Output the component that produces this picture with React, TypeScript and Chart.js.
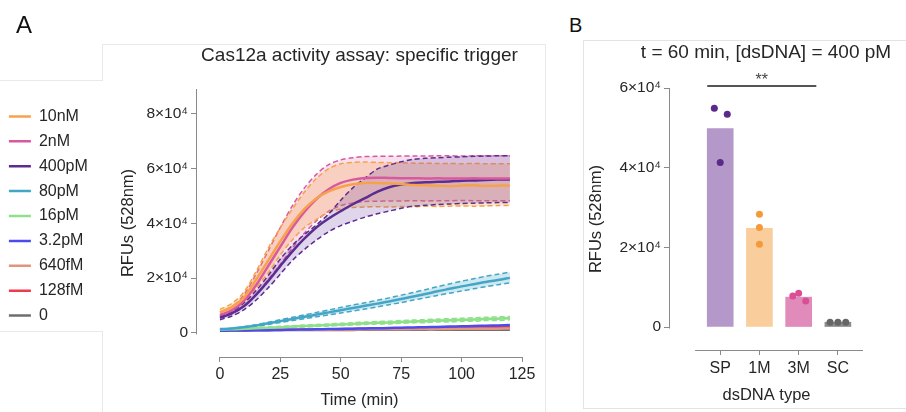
import { useEffect, useRef } from 'react';
import { Chart, registerables } from 'chart.js';

Chart.register(...registerables);

const FONT = '"Liberation Sans", Arial, Helvetica, sans-serif';
const AXIS = '#8a8a8a';
const TXT = '#262626';

// ---------------- Panel A data ----------------
const time = [0, 5, 10, 15, 20, 25, 30, 35, 40, 45, 50, 55, 60, 65, 70, 75, 80, 85, 90, 95, 100, 105, 110, 115, 120];

const nM10 = [7600, 9500, 13000, 19500, 26500, 33500, 40000, 45300, 49200, 51700, 53300, 54300, 54800, 54800, 54600, 54400, 54000, 53900, 53800, 53600, 53800, 53900, 53700, 53800, 53800];
const nM10Hi = [8600, 10800, 15000, 22500, 31000, 38500, 45300, 51500, 56500, 60000, 61800, 62300, 62400, 62300, 62200, 62200, 62000, 62000, 61900, 61900, 61800, 61900, 61800, 61800, 61800];
const nM10Lo = [6600, 8000, 11000, 16500, 22000, 28500, 34000, 38500, 41500, 44000, 45300, 45800, 46000, 46100, 46000, 46200, 46100, 46300, 46200, 46300, 46400, 46300, 46400, 46500, 46500];

const nM2 = [6500, 8300, 11800, 17500, 24500, 31500, 38500, 44300, 49000, 52500, 54800, 56000, 56600, 56700, 56600, 56500, 56500, 56400, 56500, 56400, 56400, 56500, 56400, 56400, 56400];
const nM2Hi = [7500, 9500, 14000, 21500, 30000, 38500, 46500, 53000, 58000, 61500, 63200, 64000, 64400, 64500, 64500, 64600, 64600, 64600, 64700, 64700, 64600, 64700, 64700, 64700, 64700];
const nM2Lo = [5600, 7000, 9800, 14000, 19500, 25000, 31000, 36500, 41000, 44500, 46500, 47500, 48000, 48100, 48200, 48200, 48300, 48200, 48300, 48300, 48400, 48300, 48300, 48300, 48300];

const pM400 = [5500, 7200, 9800, 14000, 19000, 24500, 29800, 34500, 38600, 41800, 44500, 47000, 49200, 51500, 53200, 54200, 54800, 55000, 55200, 55300, 55600, 55700, 55900, 56000, 56000];
const pM400Hi = [6200, 8000, 11000, 15500, 21000, 27000, 32000, 36000, 39500, 43500, 48500, 53000, 56500, 59800, 61300, 62500, 63400, 63800, 64000, 64200, 64300, 64500, 64600, 64700, 64700];
const pM400Lo = [4800, 6200, 8500, 12000, 16500, 21500, 26500, 30500, 34000, 37000, 39200, 40800, 42300, 43500, 44500, 45500, 46300, 46600, 46900, 47100, 47300, 47400, 47500, 47600, 47600];

const pM80 = [1400, 1600, 2100, 2700, 3500, 4300, 5100, 5900, 6700, 7500, 8300, 9100, 9900, 10700, 11500, 12400, 13300, 14200, 15200, 16100, 17000, 17800, 18600, 19300, 20100];
const pM80Hi = [1500, 1700, 2300, 3000, 3900, 4800, 5700, 6600, 7500, 8400, 9300, 10200, 11000, 11900, 12800, 13800, 14800, 15800, 16900, 17900, 18900, 19800, 20700, 21400, 22200];
const pM80Lo = [1300, 1500, 1900, 2400, 3100, 3800, 4500, 5200, 5900, 6600, 7300, 8000, 8700, 9500, 10300, 11100, 12000, 12800, 13700, 14500, 15300, 16100, 16900, 17600, 18300];

const pM16 = [1200, 1300, 1500, 1700, 1900, 2100, 2300, 2500, 2700, 2900, 3100, 3300, 3500, 3700, 3800, 4000, 4200, 4300, 4500, 4600, 4800, 4900, 5100, 5200, 5400];
const pM16Hi = [1300, 1400, 1650, 1900, 2150, 2400, 2600, 2850, 3050, 3300, 3500, 3750, 3950, 4150, 4300, 4500, 4700, 4850, 5050, 5200, 5400, 5550, 5700, 5850, 6000];
const pM16Lo = [1100, 1200, 1350, 1500, 1650, 1800, 2000, 2150, 2350, 2500, 2700, 2850, 3050, 3250, 3300, 3500, 3700, 3750, 3950, 4000, 4200, 4250, 4500, 4550, 4800];

const pM3_2 = [800, 850, 900, 950, 1000, 1100, 1150, 1250, 1300, 1400, 1450, 1550, 1650, 1700, 1800, 1900, 2000, 2100, 2200, 2300, 2400, 2500, 2650, 2750, 2900];
const fM640 = [1000, 1000, 1050, 1050, 1100, 1100, 1150, 1150, 1200, 1200, 1250, 1250, 1300, 1300, 1350, 1350, 1400, 1400, 1450, 1450, 1500, 1500, 1550, 1550, 1600];
const fM128 = [900, 950, 1000, 1050, 1100, 1150, 1200, 1250, 1300, 1350, 1400, 1450, 1500, 1550, 1600, 1650, 1700, 1800, 1850, 1900, 1950, 2000, 2100, 2150, 2200];
const zero = [1000, 1000, 1000, 1050, 1050, 1050, 1050, 1100, 1100, 1100, 1100, 1100, 1150, 1150, 1150, 1150, 1150, 1200, 1200, 1200, 1200, 1200, 1200, 1200, 1200];

const seriesLabels = ['10nM', '2nM', '400pM', '80pM', '16pM', '3.2pM', '640fM', '128fM', '0'];
const seriesColors = ['#F7A24B', '#D9599E', '#5C2D91', '#43A6C6', '#8EE08A', '#4B4BF0', '#E2947E', '#EE3B4C', '#6E6E6E'];
const seriesMeans = [nM10, nM2, pM400, pM80, pM16, pM3_2, fM640, fM128, zero];

const bandSeries = [2, 0, 1, 3, 4];
const bandHi = [pM400Hi, nM10Hi, nM2Hi, pM80Hi, pM16Hi];
const bandLo = [pM400Lo, nM10Lo, nM2Lo, pM80Lo, pM16Lo];
const bandFill = ['rgba(110,70,165,0.22)', 'rgba(247,162,75,0.28)', 'rgba(217,89,158,0.18)', 'rgba(67,166,198,0.25)', 'rgba(142,224,138,0.3)'];

const xTicksA = [0, 25, 50, 75, 100, 125];
const yTicksA = [0, 20000, 40000, 60000, 80000];

// ---------------- Panel B data ----------------
const categories = ['SP', '1M', '3M', 'SC'];
const barMeans = [49800, 24800, 7500, 1200];
const barColors = ['#B498C9', '#F9CD9C', '#E08BB9', '#8C8C8C'];
const pointX = [-0.15, 0.18, 0, 1, 1, 1, 1.85, 2, 2.18, 2.8, 3, 3.2];
const pointY = [54900, 53400, 41300, 28300, 25000, 20800, 7800, 8500, 6500, 1200, 1200, 1200];
const pointColors = ['#5A2A8A', '#5A2A8A', '#5A2A8A', '#F59A3A', '#F59A3A', '#F59A3A', '#D94E95', '#D94E95', '#D94E95', '#666666', '#666666', '#666666'];
const sigX = [-0.33, 2.45];
const sigY = 60500;
const sigText = '**';
const yTicksB = [0, 20000, 40000, 60000];

const sci = (v: number) => (v === 0 ? '0' : `${v / 10000}×10⁴`);

const axisLinesA = {
  id: 'axisLinesA',
  afterDraw(chart: any) {
    const { ctx, chartArea, scales } = chart;
    const x = scales.x, y = scales.y;
    ctx.save();
    ctx.strokeStyle = AXIS;
    ctx.lineWidth = 1;
    ctx.beginPath();
    const lx = Math.round(chartArea.left) - 0.5;
    ctx.moveTo(lx, y.getPixelForValue(0) + 1.5);
    ctx.lineTo(lx, chartArea.top);
    const by = Math.round(chartArea.bottom) + 0.5;
    ctx.moveTo(x.getPixelForValue(0), by);
    ctx.lineTo(x.getPixelForValue(125), by);
    ctx.stroke();
    ctx.restore();
  },
};

const axisLinesB = {
  id: 'axisLinesB',
  afterDraw(chart: any) {
    const { ctx, chartArea, scales } = chart;
    const x = scales.x, y = scales.y;
    ctx.save();
    ctx.strokeStyle = AXIS;
    ctx.lineWidth = 1;
    ctx.beginPath();
    const lx = Math.round(chartArea.left) - 0.5;
    ctx.moveTo(lx, y.getPixelForValue(0) + 1.5);
    ctx.lineTo(lx, y.getPixelForValue(60000));
    const by = Math.round(chartArea.bottom) + 0.5;
    ctx.moveTo(x.getPixelForValue(-0.64), by);
    ctx.lineTo(chartArea.right, by);
    ctx.stroke();
    ctx.fillStyle = '#444';
    ctx.font = `16px ${FONT}`;
    ctx.textAlign = 'center';
    ctx.textBaseline = 'bottom';
    ctx.fillText(sigText, (x.getPixelForValue(sigX[0]) + x.getPixelForValue(sigX[1])) / 2, y.getPixelForValue(sigY) + 3);
    ctx.restore();
  },
};

function configA(): any {
  const datasets: any[] = seriesMeans.map((arr, i) => ({
    label: seriesLabels[i],
    data: time.map((t, j) => ({ x: t, y: arr[j] })),
    borderColor: seriesColors[i],
    backgroundColor: seriesColors[i],
    borderWidth: 2.5,
    pointRadius: 0,
    tension: 0.3,
    fill: false,
  }));
  bandSeries.forEach((s, k) => {
    datasets.push({
      label: seriesLabels[s] + ' upper',
      isBand: true,
      data: time.map((t, j) => ({ x: t, y: bandHi[k][j] })),
      borderColor: seriesColors[s],
      borderWidth: 1.5,
      borderDash: [5, 3],
      pointRadius: 0,
      tension: 0.3,
      fill: false,
    });
    datasets.push({
      label: seriesLabels[s] + ' lower',
      isBand: true,
      data: time.map((t, j) => ({ x: t, y: bandLo[k][j] })),
      borderColor: seriesColors[s],
      backgroundColor: bandFill[k],
      borderWidth: 1.5,
      borderDash: [5, 3],
      pointRadius: 0,
      tension: 0.3,
      fill: '-1',
    });
  });
  return {
    type: 'line',
    data: { datasets },
    plugins: [axisLinesA],
    options: {
      animation: false,
      responsive: false,
      devicePixelRatio: 1,
      layout: { padding: { left: 0, right: 23, top: 0, bottom: 0 } },
      plugins: {
        title: {
          display: true,
          text: 'Cas12a activity assay: specific trigger',
          fullSize: false,
          color: TXT,
          font: { family: FONT, size: 19, weight: 'normal' },
          padding: { top: 24.6, bottom: 21.6 },
        },
        legend: {
          display: true,
          position: 'left',
          align: 'center',
          labels: {
            usePointStyle: true,
            pointStyle: 'line',
            pointStyleWidth: 22,
            padding: 8.9,
            color: TXT,
            font: { family: FONT, size: 16 },
            filter: (item: any, data: any) => !data.datasets[item.datasetIndex].isBand,
          },
        },
        tooltip: { enabled: false },
      },
      scales: {
        x: {
          type: 'linear',
          min: -9.5,
          max: 125,
          afterBuildTicks: (s: any) => { s.ticks = xTicksA.map((v) => ({ value: v })); },
          afterFit: (s: any) => { s.height = 55; },
          border: { display: false },
          grid: { display: true, offset: false, drawOnChartArea: false, drawTicks: true, tickLength: 5, color: AXIS },
          ticks: { color: TXT, padding: 3, maxRotation: 0, font: { family: FONT, size: 16 } },
          title: { display: true, text: 'Time (min)', color: TXT, font: { family: FONT, size: 16.5 }, padding: { top: 0, bottom: 2 } },
        },
        y: {
          type: 'linear',
          min: -8800,
          max: 89100,
          afterBuildTicks: (s: any) => { s.ticks = yTicksA.map((v) => ({ value: v })); },
          afterFit: (s: any) => {
            const lg = s.chart.legend;
            s.width = 197 - (lg ? lg.width : 0);
          },
          border: { display: false },
          grid: { display: true, drawOnChartArea: false, drawTicks: true, tickLength: 6, color: AXIS },
          ticks: { color: TXT, padding: 3, callback: (v: any) => sci(Number(v)), font: { family: FONT, size: 15.5 } },
          title: { display: true, text: 'RFUs (528nm)', color: TXT, font: { family: FONT, size: 16.5 }, padding: { top: 21, bottom: 0 } },
        },
      },
    },
  };
}

function configB(): any {
  return {
    type: 'bar',
    data: {
      datasets: [
        {
          type: 'line',
          label: 'significance',
          data: sigX.map((x) => ({ x, y: sigY })),
          borderColor: '#555555',
          borderWidth: 2,
          pointRadius: 0,
          clip: false,
          order: 0,
        },
        {
          type: 'scatter',
          label: 'replicates',
          data: pointX.map((x, i) => ({ x, y: pointY[i] })),
          pointBackgroundColor: pointColors,
          pointBorderWidth: 0,
          pointRadius: 3.5,
          order: 1,
        },
        {
          type: 'bar',
          label: 'mean',
          data: categories.map((c, i) => ({ x: i, y: barMeans[i] })),
          backgroundColor: barColors,
          barThickness: 26,
          order: 2,
        },
      ],
    },
    plugins: [axisLinesB],
    options: {
      animation: false,
      responsive: false,
      devicePixelRatio: 1,
      layout: { padding: { left: 0, right: 0, top: 0, bottom: 0 } },
      plugins: {
        title: {
          display: true,
          text: 't = 60 min, [dsDNA] = 400 pM',
          fullSize: true,
          align: 'center',
          color: TXT,
          font: { family: FONT, size: 19, weight: 'normal' },
          padding: { top: 1.6, bottom: 23.6 },
        },
        legend: { display: false },
        tooltip: { enabled: false },
      },
      scales: {
        x: {
          type: 'linear',
          min: -1.28,
          max: 3.64,
          offset: false,
          afterBuildTicks: (s: any) => { s.ticks = categories.map((c, i) => ({ value: i })); },
          afterFit: (s: any) => { s.height = 62; },
          border: { display: false },
          grid: { display: true, offset: false, drawOnChartArea: false, drawTicks: true, tickLength: 5, color: AXIS },
          ticks: { color: TXT, padding: 4, maxRotation: 0, callback: (v: any) => categories[Number(v)] ?? '', font: { family: FONT, size: 16 } },
          title: { display: true, text: 'dsDNA type', color: TXT, font: { family: FONT, size: 16.5 }, padding: { top: 0, bottom: 7 } },
        },
        y: {
          type: 'linear',
          min: -5770,
          max: 60000,
          afterBuildTicks: (s: any) => { s.ticks = yTicksB.map((v) => ({ value: v })); },
          afterFit: (s: any) => { s.width = 87; },
          border: { display: false },
          grid: { display: true, drawOnChartArea: false, drawTicks: true, tickLength: 6, color: AXIS },
          ticks: { color: TXT, padding: 3, callback: (v: any) => sci(Number(v)), font: { family: FONT, size: 15.5 } },
          title: { display: true, text: 'RFUs (528nm)', color: TXT, font: { family: FONT, size: 16.5 }, padding: { top: 4, bottom: 0 } },
        },
        yPad: {
          type: 'linear',
          position: 'right',
          display: true,
          min: 0,
          max: 1,
          afterFit: (s: any) => { s.width = 86; },
          border: { display: false },
          grid: { display: false },
          ticks: { display: false },
        },
      },
    },
  };
}

const line = (l: number, t: number, w: number, h: number, c = '#e9e9e9') => (
  <div style={{ position: 'absolute', left: l, top: t, width: w, height: h, background: c }} />
);

export default function App() {
  const aRef = useRef<HTMLCanvasElement>(null);
  const bRef = useRef<HTMLCanvasElement>(null);
  useEffect(() => {
    const a = new Chart(aRef.current as HTMLCanvasElement, configA());
    const b = new Chart(bRef.current as HTMLCanvasElement, configB());
    return () => {
      a.destroy();
      b.destroy();
    };
  }, []);
  return (
    <div style={{ position: 'absolute', left: 0, top: 0, width: 906, height: 412, background: '#ffffff', overflow: 'hidden', fontFamily: FONT }}>
      {line(102, 44, 443, 1)}
      {line(545, 44, 1, 368)}
      {line(102, 44, 1, 36)}
      {line(0, 80, 103, 1)}
      {line(0, 331, 103, 1)}
      {line(102, 331, 1, 81)}
      {line(583, 40, 323, 1, '#e3e3e3')}
      {line(583, 40, 1, 368, '#e3e3e3')}
      {line(583, 408, 323, 1, '#e3e3e3')}
      <canvas ref={aRef} width={545} height={392} style={{ position: 'absolute', left: 0, top: 20, width: 545, height: 392 }} />
      <canvas ref={bRef} width={366} height={372} style={{ position: 'absolute', left: 583, top: 40, width: 366, height: 372 }} />
      <div style={{ position: 'absolute', left: 16, top: 13, fontSize: 24, lineHeight: '24px', color: '#111' }}>A</div>
      <div style={{ position: 'absolute', left: 569, top: 15, fontSize: 20, lineHeight: '20px', color: '#111' }}>B</div>
    </div>
  );
}
